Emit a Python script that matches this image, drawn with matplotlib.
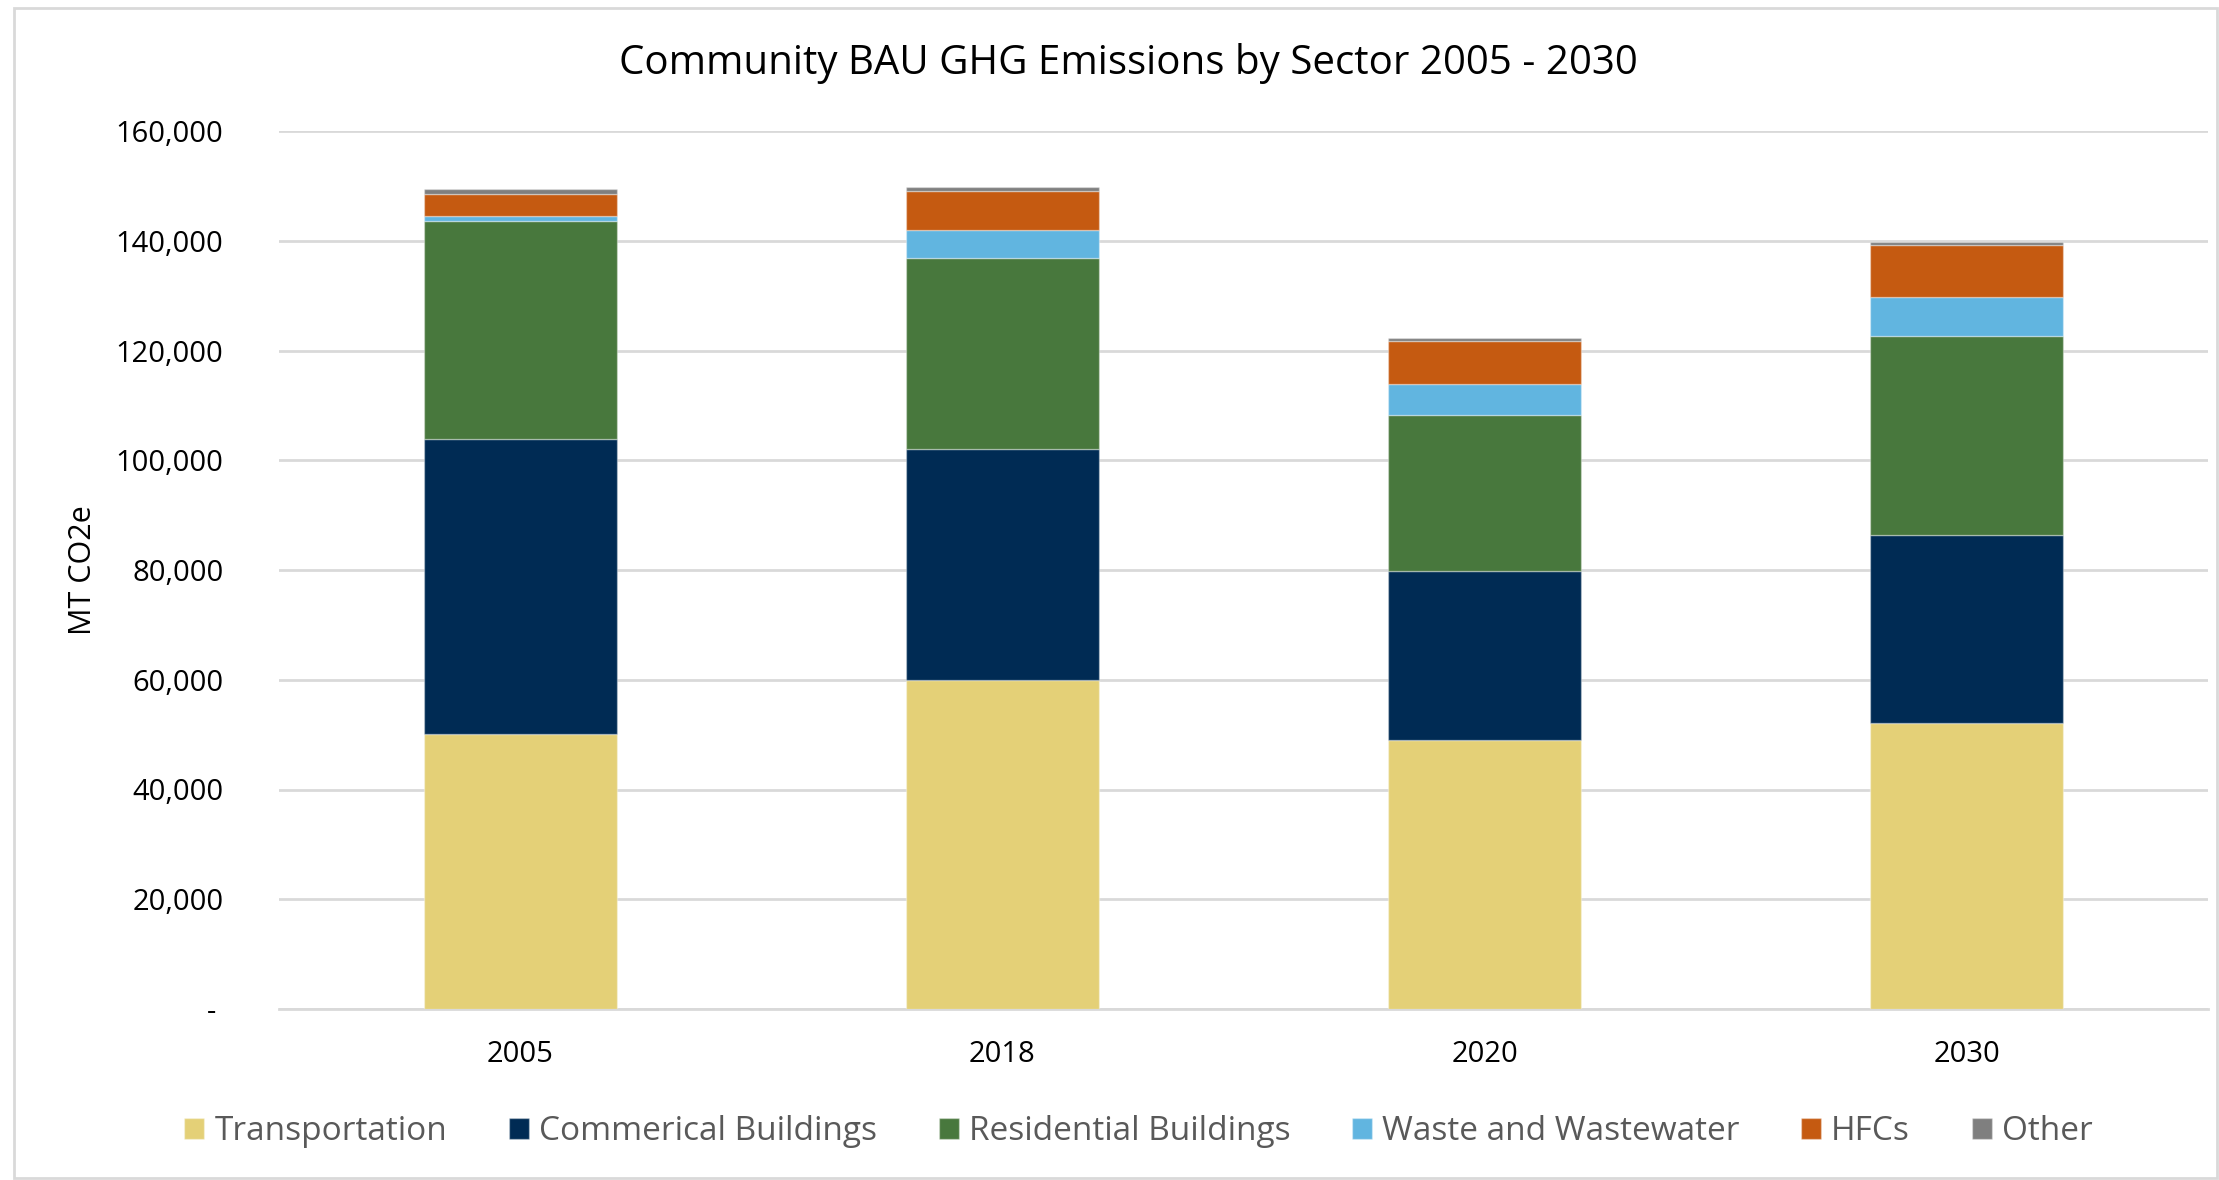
import matplotlib.pyplot as plt
from matplotlib.patches import Rectangle

plt.rcParams['font.family'] = ['Open Sans', 'DejaVu Sans']

years = ['2005', '2018', '2020', '2030']
sectors = ['Transportation', 'Commerical Buildings', 'Residential Buildings',
           'Waste and Wastewater', 'HFCs', 'Other']
transportation = [50100, 60000, 49000, 52100]
commercial = [53800, 42000, 30900, 34300]
residential = [39700, 34800, 28300, 36200]
waste = [900, 5200, 5700, 7200]
hfcs = [4100, 7000, 7900, 9500]
other = [800, 800, 500, 500]
colors = ['#E4D077', '#002B54', '#48783D', '#61B5E0', '#C55A11', '#7F7F7F']

yticks = [0, 20000, 40000, 60000, 80000, 100000, 120000, 140000, 160000]
ytick_labels = ['- ', '20,000', '40,000', '60,000', '80,000', '100,000',
                '120,000', '140,000', '160,000']

fig = plt.figure(figsize=(22.19, 11.8), dpi=100)
ax = fig.add_axes([279 / 2219, 1 - 1009 / 1180, (2208 - 279) / 2219, (1009 - 131) / 1180])

# light frame round the whole chart
fig.patches.append(Rectangle((14 / 2219, 2 / 1180), 1 - 16 / 2219, 1 - 10 / 1180,
                             transform=fig.transFigure, fill=False,
                             edgecolor='#D9D9D9', linewidth=2))

bottom = [0, 0, 0, 0]
for name, vals, c in zip(sectors, [transportation, commercial, residential, waste, hfcs, other], colors):
    ax.bar(years, vals, width=0.4, bottom=bottom, color=c, label=name,
           edgecolor=(1, 1, 1, 0.35), linewidth=1, zorder=3)
    bottom = [b + v for b, v in zip(bottom, vals)]

ax.set_ylim(0, 160000)
ax.set_xlim(-0.5, 3.5)
ax.set_yticks(yticks)
ax.set_yticklabels(ytick_labels)
ax.grid(axis='y', color='#D9D9D9', linewidth=2, zorder=0)
for s in ['top', 'right', 'left']:
    ax.spines[s].set_visible(False)
ax.spines['bottom'].set_color('#D9D9D9')
ax.spines['bottom'].set_linewidth(2)
ax.tick_params(axis='both', length=0, labelsize=21, colors='#000000')
ax.tick_params(axis='y', pad=40)
ax.tick_params(axis='x', pad=22)

ax.set_ylabel('MT CO2e', fontsize=22)
ax.yaxis.set_label_coords(-0.0938, 0.5)
fig.text(0.5086, 1 - 64 / 1180, 'Community BAU GHG Emissions by Sector 2005 - 2030',
         ha='center', va='center', fontsize=29)

leg = fig.legend(loc='center', bbox_to_anchor=(0.513, 1 - 1132 / 1180), ncol=6,
                 frameon=False, fontsize=24, handlelength=0.6, handleheight=0.6,
                 handletextpad=0.3, columnspacing=1.85)
for t in leg.get_texts():
    t.set_color('#595959')

fig.savefig('out.png', dpi=100)
